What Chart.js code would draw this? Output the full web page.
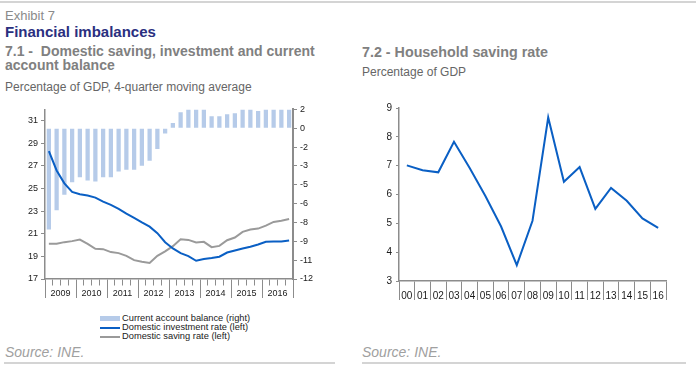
<!DOCTYPE html>
<html>
<head>
<meta charset="utf-8">
<script src="https://cdn.jsdelivr.net/npm/chart.js@4.4.1/dist/chart.umd.min.js"></script>
<style>
  body { margin: 0; width: 696px; height: 367px; background: #fff; position: relative; overflow: hidden;
         font-family: "Liberation Sans", Arial, sans-serif; }
  .t { position: absolute; white-space: nowrap; }
  .rule { position: absolute; height: 2px; background: #d4d4d4; }
  .box { position: absolute; }
  #legend { position: absolute; left: 100px; top: 314px; font-size: 9.3px; color: #222; }
  #legend div { height: 9px; line-height: 9px; display: flex; align-items: center; }
  #legend span.sw { display: inline-block; width: 20px; margin-right: 2px; }
</style>
</head>
<body>
<div class="rule" style="left:0; top:1px; width:696px;"></div>
<div class="t" style="left:5px; top:8px; font-size:13px; color:#8a8a8a;">Exhibit 7</div>
<div class="t" style="left:5px; top:23px; font-size:15px; font-weight:bold; color:#2a2f80;">Financial imbalances</div>
<div class="t" style="left:5px; top:44px; font-size:14px; font-weight:bold; color:#808080; line-height:14px;">7.1 -&nbsp; Domestic saving, investment and current<br>account balance</div>
<div class="t" style="left:5px; top:80px; font-size:12px; color:#666;">Percentage of GDP, 4-quarter moving average</div>
<div class="t" style="left:362px; top:44px; font-size:14.3px; font-weight:bold; color:#808080;">7.2 - Household saving rate</div>
<div class="t" style="left:362px; top:65px; font-size:12px; color:#666;">Percentage of GDP</div>

<div class="box" style="left:0; top:101px; width:340px; height:204px;"><canvas id="balanceChart"></canvas></div>
<div class="box" style="left:350px; top:98px; width:340px; height:207px;"><canvas id="householdChart"></canvas></div>
<div id="legend"></div>

<div class="t" style="left:5px; top:344px; font-size:14px; font-style:italic; color:#a0a0a0;">Source: INE.</div>
<div class="t" style="left:362px; top:344px; font-size:14px; font-style:italic; color:#a0a0a0;">Source: INE.</div>
<div class="rule" style="left:4px; top:362px; width:331px;"></div>
<div class="rule" style="left:362px; top:362px; width:324px;"></div>

<script>
var years = ["2009", "2010", "2011", "2012", "2013", "2014", "2015", "2016"];
var quarters = [];
years.forEach(function (y) { for (var q = 1; q <= 4; q++) quarters.push(y + " Q" + q); });

// % of GDP, 4-quarter moving average (2009 Q1 - 2016 Q4)
var currentAccount = [-8.35, -6.77, -5.49, -4.46, -4.05, -4.32, -4.40, -4.05,
                      -4.05, -3.58, -3.42, -3.42, -3.09, -2.68, -1.72, -0.43,
                      0.43, 1.33, 1.55, 1.55, 1.55, 1.0, 1.0, 1.15,
                      1.23, 1.55, 1.55, 1.42, 1.55, 1.55, 1.55, 1.55];
var investmentRate = [28.3, 26.6, 25.46, 24.7, 24.5, 24.38, 24.2, 23.85,
                      23.55, 23.2, 22.78, 22.4, 22.0, 21.63, 21.05, 20.25,
                      19.7, 19.29, 19.03, 18.61, 18.76, 18.85, 18.97, 19.34,
                      19.52, 19.7, 19.85, 20.05, 20.29, 20.31, 20.31, 20.4];
var savingRate = [20.11, 20.11, 20.26, 20.35, 20.49, 20.11, 19.67, 19.64,
                  19.38, 19.29, 19.05, 18.67, 18.52, 18.41, 19.05, 19.45,
                  19.9, 20.52, 20.46, 20.23, 20.29, 19.82, 19.93, 20.43,
                  20.67, 21.17, 21.37, 21.46, 21.72, 22.05, 22.16, 22.3];
var leftTicks = [17, 19, 21, 23, 25, 27, 29, 31];
var rightStep = 14 / 9; // right axis ticks are evenly spaced, labels rounded

// household saving rate, % of GDP
var hhYears = ["00", "01", "02", "03", "04", "05", "06", "07", "08", "09", "10", "11", "12", "13", "14", "15", "16"];
var hhSaving = [7.01, 6.84, 6.77, 7.83, 6.92, 5.95, 4.89, 3.55, 5.09, 8.67, 6.44, 6.95, 5.5, 6.23, 5.78, 5.17, 4.84];
var hhTicks = [3, 4, 5, 6, 7, 8, 9];

var axisGrey = "#8c8c8c";
var blue = "#0a5fc4";
Chart.defaults.font.family = "'Liberation Sans', Arial, sans-serif";
Chart.defaults.font.size = 9;
Chart.defaults.color = "#1a1a1a";

var balanceChart = new Chart(document.getElementById("balanceChart"), {
    type: "bar",
    data: {
        labels: quarters,
        datasets: [
            {
                type: "bar",
                label: "Current account balance (right)",
                data: currentAccount,
                yAxisID: "y1",
                backgroundColor: "#b6cbe9",
                categoryPercentage: 1,
                barPercentage: 0.55,
                order: 3,
            },
            {
                type: "line",
                label: "Domestic investment rate (left)",
                data: investmentRate,
                yAxisID: "y",
                borderColor: blue,
                borderWidth: 2,
                pointRadius: 0,
                tension: 0,
                order: 1,
            },
            {
                type: "line",
                label: "Domestic saving rate (left)",
                data: savingRate,
                yAxisID: "y",
                borderColor: "#9a9a9a",
                borderWidth: 2,
                pointRadius: 0,
                tension: 0,
                order: 2,
            },
        ],
    },
    options: {
        responsive: true,
        maintainAspectRatio: false,
        animation: false,
        layout: { padding: 0 },
        plugins: { legend: { display: false }, tooltip: { enabled: false } },
        scales: {
            x: {
                type: "category",
                offset: true,
                grid: {
                    offset: true,
                    drawOnChartArea: false,
                    tickLength: 19,
                    tickColor: axisGrey,
                    tickWidth: 1,
                    // quarter ticks short, year separators long
                    tickBorderDash: function (ctx) {
                        return (ctx.index === undefined || ctx.index % 4 === 0) ? [] : [6, 40];
                    },
                },
                border: { color: axisGrey, width: 1.5 },
                ticks: {
                    autoSkip: false,
                    maxRotation: 0,
                    padding: -10,
                    labelOffset: 3.9,
                    callback: function (v, i) { return i % 4 === 1 ? years[Math.floor(i / 4)] : ""; },
                },
                afterFit: function (s) { s.height = 26; },
            },
            y: {
                position: "left",
                min: 17,
                max: 32,
                afterBuildTicks: function (s) { s.ticks = leftTicks.map(function (v) { return { value: v }; }); },
                grid: { drawOnChartArea: false, tickLength: 4, tickColor: axisGrey },
                border: { color: axisGrey, width: 1.5 },
                ticks: { padding: 3 },
                afterFit: function (s) { s.width = 45; },
            },
            y1: {
                position: "right",
                min: -8 * rightStep,
                max: rightStep,
                afterBuildTicks: function (s) {
                    var t = [];
                    for (var i = 0; i < 10; i++) t.push({ value: (1 - i) * rightStep });
                    s.ticks = t;
                },
                grid: { drawOnChartArea: false, tickLength: 4, tickColor: axisGrey },
                border: { color: axisGrey, width: 2 },
                ticks: { padding: 3, callback: function (v) { return String(Math.round(v)); } },
                afterFit: function (s) { s.width = 47; },
            },
        },
    },
});

var householdChart = new Chart(document.getElementById("householdChart"), {
    type: "line",
    data: {
        labels: hhYears,
        datasets: [
            {
                label: "Household saving rate",
                data: hhSaving,
                borderColor: blue,
                borderWidth: 2,
                pointRadius: 0,
                tension: 0,
            },
        ],
    },
    options: {
        responsive: true,
        maintainAspectRatio: false,
        animation: false,
        layout: { padding: { right: 24 } },
        plugins: { legend: { display: false }, tooltip: { enabled: false } },
        scales: {
            x: {
                type: "category",
                offset: true,
                grid: { offset: true, drawOnChartArea: false, tickLength: 19, tickColor: axisGrey },
                border: { color: axisGrey, width: 1.5 },
                ticks: { autoSkip: false, maxRotation: 0, padding: -10, font: { size: 10 } },
                afterFit: function (s) { s.height = 24; },
            },
            y: {
                min: 3,
                max: 9,
                afterBuildTicks: function (s) { s.ticks = hhTicks.map(function (v) { return { value: v }; }); },
                grid: { drawOnChartArea: false, tickLength: 3, tickColor: axisGrey },
                border: { color: axisGrey, width: 1.5 },
                ticks: { padding: 4, font: { size: 10 } },
                afterFit: function (s) { s.width = 49; },
            },
        },
    },
});

// legend stacked under the left chart
var legendEl = document.getElementById("legend");
balanceChart.data.datasets.forEach(function (ds) {
    var row = document.createElement("div");
    var sw = document.createElement("span");
    sw.className = "sw";
    if (ds.type === "bar") {
        sw.style.height = "5px";
        sw.style.background = ds.backgroundColor;
    } else {
        sw.style.height = "2px";
        sw.style.background = ds.borderColor;
    }
    row.appendChild(sw);
    row.appendChild(document.createTextNode(ds.label));
    legendEl.appendChild(row);
});
</script>
</body>
</html>
